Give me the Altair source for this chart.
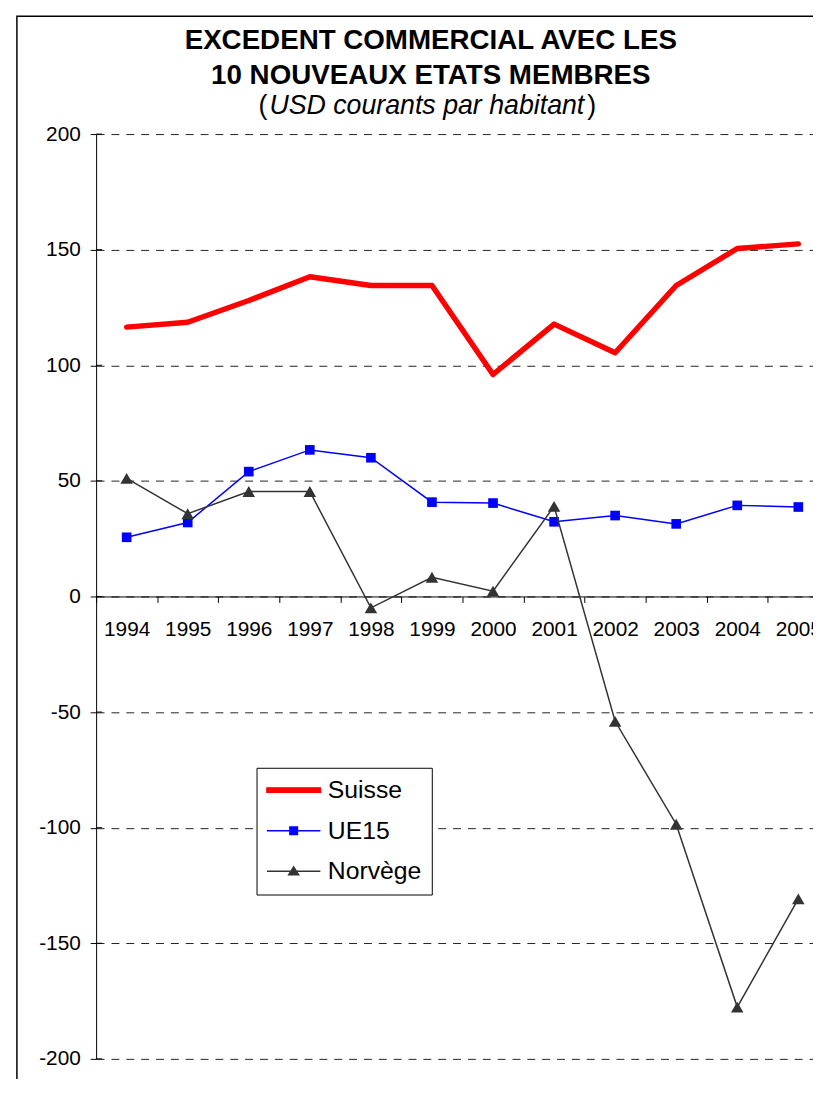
import altair as alt
import pandas as pd

FONT = "Liberation Sans"

years = ["1994", "1995", "1996", "1997", "1998", "1999",
         "2000", "2001", "2002", "2003", "2004", "2005"]
suisse = [116.5, 118.6, 128.0, 138.3, 134.5, 134.5, 96.0, 117.8, 105.4, 134.5, 150.5, 152.5]
ue15 = [25.6, 32.0, 54.0, 63.4, 60.0, 40.8, 40.4, 32.3, 35.0, 31.4, 39.4, 38.7]
norvege = [51.1, 35.8, 45.4, 45.4, -4.9, 8.3, 2.3, 39.0, -54.0, -98.5, -177.6, -130.8]

series_names = ["Suisse", "UE15", "Norvège"]
series_colors = ["#FF0000", "#0000FF", "#333333"]
legend_paths = [
    "M-1.2,-0.22H4.2V0.22H-1.2Z",
    "M-1.2,0H4.2M1.12,-0.38H1.88V0.38H1.12Z",
    "M-1.2,0H4.2M1.5,-0.45L2.0,0.35H1.0Z",
]
title_line1 = "EXCEDENT COMMERCIAL AVEC LES"
title_line2 = "10 NOUVEAUX ETATS MEMBRES"
subtitle = "USD courants par habitant"
y_ticks = [-200, -150, -100, -50, 0, 50, 100, 150, 200]

rows = []
for name, vals in zip(series_names, [suisse, ue15, norvege]):
    for yr, v in zip(years, vals):
        rows.append({"annee": yr, "valeur": v, "serie": name})
df = pd.DataFrame(rows)
ticks_df = pd.DataFrame({"valeur": y_ticks})

x_enc = alt.X(
    "annee:O",
    scale=alt.Scale(type="band", domain=years, range=[0, 740], paddingInner=0, paddingOuter=0),
    axis=alt.Axis(title=None, orient="bottom", offset=-467, labelAngle=0, labelFontSize=21,
                  labelFont=FONT, labelColor="black", tickBand="extent", tickSize=6,
                  tickColor="black", domainColor="black", domainWidth=1, grid=False,
                  labelPadding=16, labelOverlap=False, labelFlush=False),
)
y_enc = alt.Y(
    "valeur:Q",
    scale=alt.Scale(domain=[-200, 200], nice=False, zero=False),
    axis=alt.Axis(title=None, values=y_ticks, labelFontSize=21, labelFont=FONT,
                  labelColor="black", tickSize=6, tickColor="black", labelPadding=10,
                  grid=True, gridDash=[8, 7], gridColor="#222222", gridWidth=1,
                  domainColor="black", domainWidth=1, labelExpr="'' + datum.value"),
)

one = alt.Data(values=[{}])

frame = alt.Chart(one).mark_rect(fill="transparent", stroke="black", strokeWidth=1.5, clip=False).encode(
    x=alt.value(-80), y=alt.value(-119), x2=alt.value(1000), y2=alt.value(1100)
)

# crossing ticks on the value axis (inner half)
cross_ticks = alt.Chart(ticks_df).mark_rule(color="black", strokeWidth=1).encode(
    y=y_enc, x=alt.value(0), x2=alt.value(6),
)

t1 = alt.Chart(one).mark_text(text=title_line1, font=FONT, fontSize=28, fontWeight="bold",
                              align="center", baseline="alphabetic", color="black").encode(
    x=alt.value(338), y=alt.value(-86))
t2 = alt.Chart(one).mark_text(text=title_line2, font=FONT, fontSize=28, fontWeight="bold",
                              align="center", baseline="alphabetic", color="black").encode(
    x=alt.value(338), y=alt.value(-51))
t3 = alt.Chart(one).mark_text(text=subtitle, font=FONT, fontSize=27, fontStyle="italic",
                              align="center", baseline="alphabetic", color="black").encode(
    x=alt.value(334), y=alt.value(-20))
t3a = alt.Chart(one).mark_text(text="(", font=FONT, fontSize=27,
                               align="right", baseline="alphabetic", color="black").encode(
    x=alt.value(173), y=alt.value(-20))
t3b = alt.Chart(one).mark_text(text=")", font=FONT, fontSize=27,
                               align="left", baseline="alphabetic", color="black").encode(
    x=alt.value(496), y=alt.value(-20))

base = alt.Chart(df)

line_ch = base.transform_filter(alt.datum.serie == "Suisse").mark_line(
    color="#FF0000", strokeWidth=5.5, strokeCap="round", strokeJoin="round").encode(x=x_enc, y=y_enc)
line_ue = base.transform_filter(alt.datum.serie == "UE15").mark_line(
    color="#0000FF", strokeWidth=1.5).encode(x=x_enc, y=y_enc)
pts_ue = base.transform_filter(alt.datum.serie == "UE15").mark_square(
    color="#0000FF", size=95, filled=True, opacity=1).encode(x=x_enc, y=y_enc)
line_no = base.transform_filter(alt.datum.serie == "Norvège").mark_line(
    color="#333333", strokeWidth=1.5).encode(x=x_enc, y=y_enc)
pts_no = base.transform_filter(alt.datum.serie == "Norvège").mark_point(
    shape="triangle-up", color="#333333", size=160, filled=True, opacity=1).encode(x=x_enc, y=y_enc)

leg = alt.Legend(title=None, orient="none", legendX=162, legendY=640, padding=10,
                 strokeColor="black", fillColor="white", labelFontSize=25, labelFont=FONT,
                 labelColor="black", symbolSize=400, symbolStrokeWidth=1.5, rowPadding=15,
                 labelOffset=37, symbolOpacity=1, cornerRadius=0)

legend_layer = base.mark_point(filled=True, opacity=0, size=400).encode(
    x=x_enc, y=y_enc,
    color=alt.Color("serie:N", scale=alt.Scale(domain=series_names, range=series_colors), legend=leg),
    stroke=alt.Stroke("serie:N", scale=alt.Scale(domain=series_names, range=series_colors), legend=leg),
    shape=alt.Shape("serie:N", scale=alt.Scale(domain=series_names, range=legend_paths), legend=leg),
)

chart = alt.layer(
    frame, cross_ticks, t1, t2, t3, t3a, t3b, line_ch, line_ue, pts_ue, line_no, pts_no, legend_layer
).properties(
    width=724, height=934,
    padding={"left": 89, "top": 122, "right": 0, "bottom": 15},
    autosize=alt.AutoSizeParams(type="none"),
).configure_view(stroke="transparent")

chart.save("out.html", embed_options={"renderer": "svg", "actions": False})
